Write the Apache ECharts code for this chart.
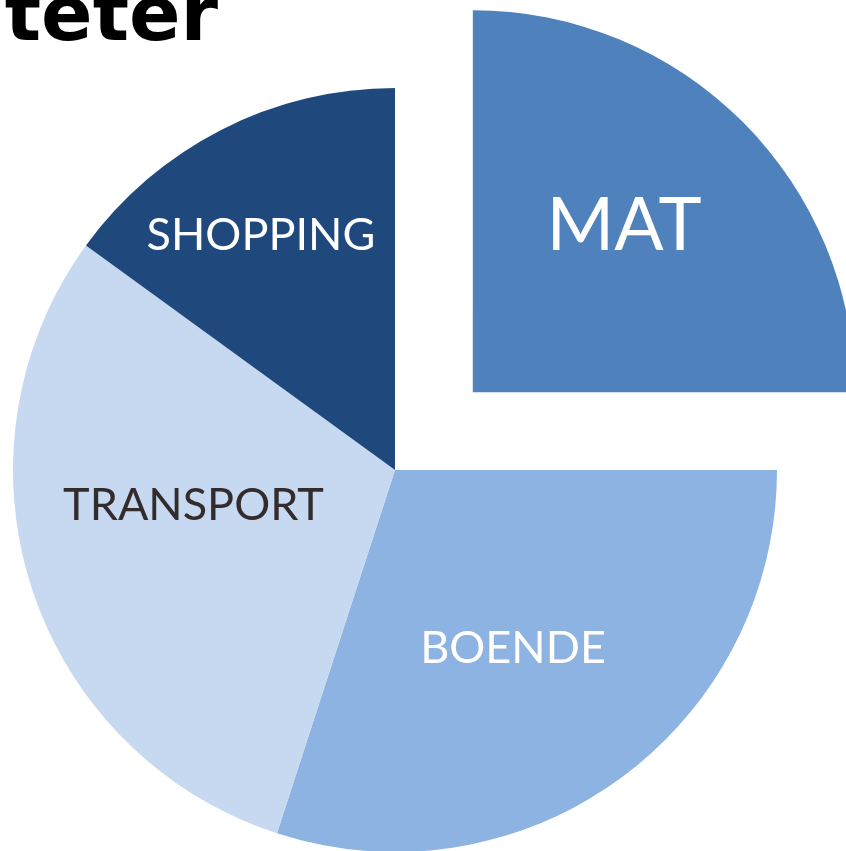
<!DOCTYPE html>
<html>
<head>
<meta charset="utf-8">
<script src="https://cdn.jsdelivr.net/npm/echarts@6/dist/echarts.min.js"></script>
<style>
  html, body { margin: 0; padding: 0; background: #fff; }
  #area { width: 846px; height: 851px; }
</style>
</head>
<body>
<div id="area"></div>
<script>
// andelar i procent, medurs från klockan tolv
let categories = ['MAT', 'BOENDE', 'TRANSPORT', 'SHOPPING']
let values = [25, 30, 30, 15]
let colors = ['#4f81bd', '#8db3e2', '#c6d9f1', '#1f497d']
let titleText = 'teter'

// finjustering av etiketterna (px)
let labelShift = [[14, -29], [4, 22], [-17, -24], [-46, -62]]

let myChart = echarts.init(document.getElementById('area'))
let option = {
  animation: false,
  graphic: [
    {
      type: 'text',
      right: 628,
      top: -18,
      style: {
        text: titleText,
        fill: '#000',
        font: 'bold 76px "DejaVu Sans"'
      }
    }
  ],
  series: [
    {
      type: 'pie',
      center: [395, 470],
      radius: 382,
      startAngle: 90,
      clockwise: true,
      selectedMode: 'single',
      selectedOffset: 110,
      silent: true,
      itemStyle: { borderWidth: 0 },
      label: {
        position: 'inside',
        formatter: '{b}',
        fontFamily: 'Lato',
        fontSize: 45,
        color: '#fff'
      },
      labelLine: { show: false },
      labelLayout: function (p) {
        return { dx: labelShift[p.dataIndex][0], dy: labelShift[p.dataIndex][1] }
      },
      data: categories.map(function (c, i) {
        let item = { name: c, value: values[i], itemStyle: { color: colors[i] }, label: {} }
        if (i === 0) {
          item.selected = true
          item.label.fontSize = 73
        }
        if (c === 'TRANSPORT') item.label.color = '#332c2c'
        return item
      })
    }
  ]
}
myChart.setOption(option)
</script>
</body>
</html>
